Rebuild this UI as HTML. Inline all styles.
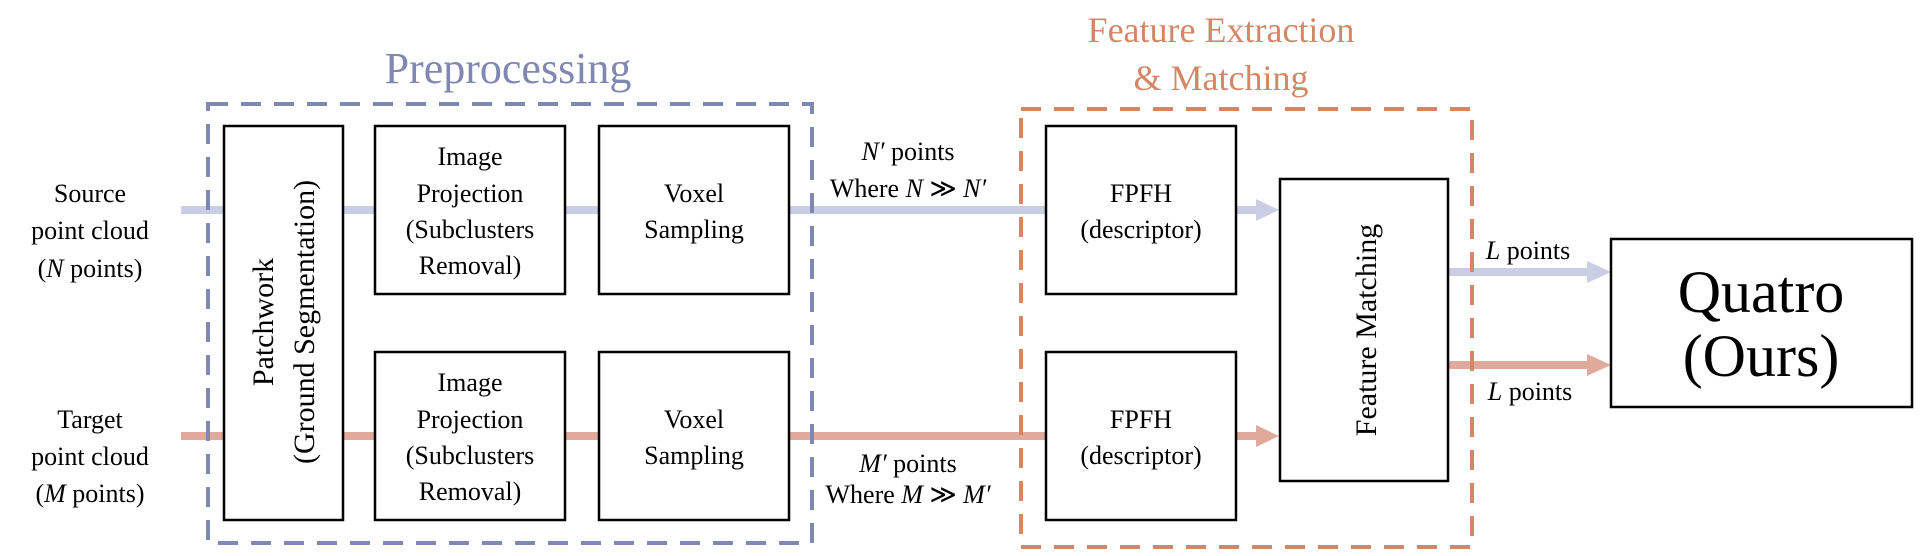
<!DOCTYPE html>
<html><head><meta charset="utf-8"><style>
html,body{margin:0;padding:0;background:#fff;}
svg{display:block;}
text{font-family:"Liberation Serif",serif;fill:#000;}
</style></head><body>
<svg width="1920" height="556" viewBox="0 0 1920 556" xmlns="http://www.w3.org/2000/svg">
<g stroke-width="8">
<line x1="181" y1="210" x2="1046" y2="210" stroke="#c9cee4"/>
<line x1="1236" y1="210" x2="1262" y2="210" stroke="#c9cee4"/>
<line x1="1448" y1="272" x2="1592" y2="272" stroke="#c9cee4"/>
<line x1="181" y1="436" x2="1046" y2="436" stroke="#e0aa9a"/>
<line x1="1236" y1="436" x2="1262" y2="436" stroke="#e0aa9a"/>
<line x1="1448" y1="365" x2="1592" y2="365" stroke="#e0aa9a"/>
</g>
<polygon points="1256,199 1279,210 1256,221" fill="#c9cee4"/>
<polygon points="1256,425 1279,436 1256,447" fill="#e0aa9a"/>
<polygon points="1587,261 1611,272 1587,283" fill="#c9cee4"/>
<polygon points="1587,354 1611,365 1587,376" fill="#e0aa9a"/>

<rect x="208" y="104" width="604" height="439" fill="none" stroke="#7f88b0" stroke-width="4" stroke-dasharray="20,13"/>
<rect x="1021" y="109" width="451" height="438" fill="none" stroke="#d38767" stroke-width="4" stroke-dasharray="20,13"/>

<g fill="#fff" stroke="#000" stroke-width="2.5">
<rect x="224" y="126" width="119" height="394"/>
<rect x="375" y="126" width="190" height="168"/>
<rect x="599" y="126" width="190" height="168"/>
<rect x="375" y="352" width="190" height="168"/>
<rect x="599" y="352" width="190" height="168"/>
<rect x="1046" y="126" width="190" height="168"/>
<rect x="1046" y="352" width="190" height="168"/>
<rect x="1280" y="179" width="168" height="302"/>
<rect x="1611" y="239" width="301" height="168"/>
</g>

<text x="508" y="83" font-size="44" text-anchor="middle" style="fill:#8088b2">Preprocessing</text>
<text x="1221" y="42" font-size="36" text-anchor="middle" style="fill:#d38767">Feature Extraction</text>
<text x="1221" y="90" font-size="36" text-anchor="middle" style="fill:#d38767">&amp; Matching</text>

<g font-size="26" text-anchor="middle">
<text x="90" y="202">Source</text>
<text x="90" y="239">point cloud</text>
<text x="90" y="277">(<tspan font-style="italic">N</tspan> points)</text>
<text x="90" y="428">Target</text>
<text x="90" y="465">point cloud</text>
<text x="90" y="502">(<tspan font-style="italic">M</tspan> points)</text>

<text x="470" y="165">Image</text>
<text x="470" y="202">Projection</text>
<text x="470" y="238">(Subclusters</text>
<text x="470" y="274">Removal)</text>
<text x="470" y="391">Image</text>
<text x="470" y="428">Projection</text>
<text x="470" y="464">(Subclusters</text>
<text x="470" y="500">Removal)</text>

<text x="694" y="202">Voxel</text>
<text x="694" y="238">Sampling</text>
<text x="694" y="428">Voxel</text>
<text x="694" y="464">Sampling</text>

<text x="1141" y="202">FPFH</text>
<text x="1141" y="238">(descriptor)</text>
<text x="1141" y="428">FPFH</text>
<text x="1141" y="464">(descriptor)</text>

<text x="908" y="160"><tspan font-style="italic">N′</tspan> points</text>
<text x="908" y="197">Where <tspan font-style="italic">N</tspan> ≫ <tspan font-style="italic">N′</tspan></text>
<text x="908" y="472"><tspan font-style="italic">M′</tspan> points</text>
<text x="908" y="503">Where <tspan font-style="italic">M</tspan> ≫ <tspan font-style="italic">M′</tspan></text>

<text x="1528" y="259"><tspan font-style="italic">L</tspan> points</text>
<text x="1530" y="400"><tspan font-style="italic">L</tspan> points</text>
</g>

<text transform="translate(273,322) rotate(-90)" font-size="30" text-anchor="middle">Patchwork</text>
<text transform="translate(314,322) rotate(-90)" font-size="30" text-anchor="middle">(Ground Segmentation)</text>
<text transform="translate(1376,330) rotate(-90)" font-size="30" text-anchor="middle">Feature Matching</text>

<text x="1761" y="312" font-size="60" text-anchor="middle">Quatro</text>
<text x="1761" y="376" font-size="60" text-anchor="middle">(Ours)</text>
</svg>
</body></html>
